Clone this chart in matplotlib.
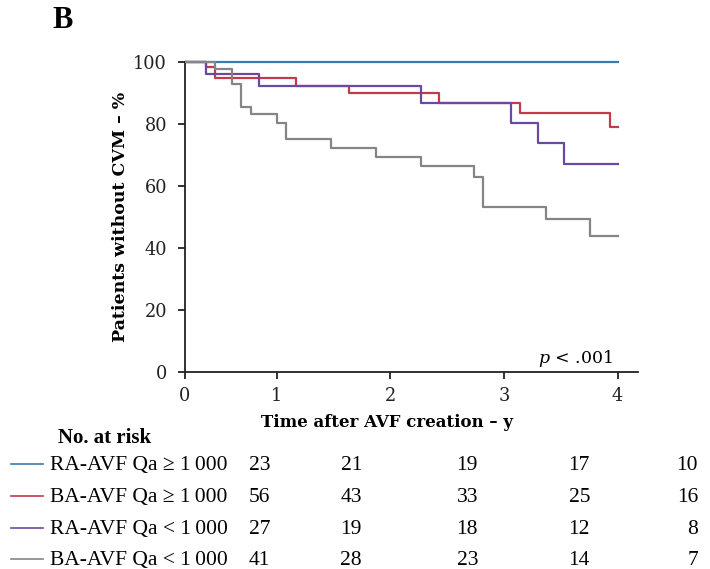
import matplotlib
matplotlib.use("Agg")
import matplotlib.pyplot as plt
from matplotlib.transforms import Bbox, TransformedBbox

plt.rcParams['mathtext.fontset'] = 'dejavuserif'

# Kaplan-Meier estimates (years, % without CVM)
grupos = ['RA-AVF Qa ≥ 1\u2009000', 'BA-AVF Qa ≥ 1\u2009000',
          'RA-AVF Qa < 1\u2009000', 'BA-AVF Qa < 1\u2009000']
cores = ['#3a7cad', '#c23a4c', '#6a4a9e', '#858585']

t_ra_alto = [0.0, 4.0]
s_ra_alto = [100.0, 100.0]

t_ba_alto = [0.0, 0.38, 0.455, 1.17, 1.64, 2.43, 3.14, 3.93, 4.0]
s_ba_alto = [100.0, 98.4, 94.7, 92.4, 90.0, 86.9, 83.4, 79.1, 79.1]

t_ra_baixo = [0.0, 0.38, 0.844, 2.27, 3.06, 3.30, 3.53, 4.0]
s_ra_baixo = [100.0, 96.1, 92.3, 86.9, 80.3, 73.8, 67.1, 67.1]

t_ba_baixo = [0.0, 0.455, 0.61, 0.686, 0.771, 1.005, 1.08, 1.48, 1.876,
              2.27, 2.735, 2.82, 3.37, 3.76, 4.0]
s_ba_baixo = [100.0, 97.6, 92.9, 85.6, 83.2, 80.4, 75.2, 72.2, 69.5,
              66.6, 63.0, 53.1, 49.3, 44.0, 44.0]

curvas = [(t_ra_alto, s_ra_alto), (t_ba_alto, s_ba_alto),
          (t_ra_baixo, s_ra_baixo), (t_ba_baixo, s_ba_baixo)]

# numbers at risk at 0..4 years
em_risco = [[23, 21, 19, 17, 10],
            [56, 43, 33, 25, 16],
            [27, 19, 18, 12, 8],
            [41, 28, 23, 14, 7]]

inicio_eixo = 0.193  # where the plotted axis starts
ticks_x = [inicio_eixo, 1, 2, 3, 4]
rotulos_x = ['0', '1', '2', '3', '4']

fonte_eixo = ['DejaVu Serif']
fonte_tab = ['Liberation Serif', 'DejaVu Serif']

fig = plt.figure(figsize=(7.1, 5.69), dpi=100)
ax = fig.add_axes([185/710, 1 - 372/569, (638 - 185)/710, (372 - 62)/569])

# clip on the left at the axis, but let the 100 % line show whole
recorte = TransformedBbox(Bbox([[inicio_eixo, -5], [4.5, 105]]), ax.transData)
for (t, s), cor in zip(curvas, cores):
    linha, = ax.step(t, s, where='post', color=cor, lw=1.6, zorder=3)
    linha.set_clip_box(recorte)

ax.set_xlim(inicio_eixo, 4.18)
ax.set_ylim(0, 100)
ax.set_xticks(ticks_x)
ax.set_xticklabels(rotulos_x)
ax.set_yticks([0, 20, 40, 60, 80, 100])
for s in ['top', 'right']:
    ax.spines[s].set_visible(False)
for s in ['left', 'bottom']:
    ax.spines[s].set_linewidth(1.3)
    ax.spines[s].set_color('#222222')
ax.tick_params(direction='out', length=5, width=1.3, colors='#222222',
               labelsize=12.8)
ax.tick_params(axis='y', pad=8)
ax.tick_params(axis='x', pad=6)
for lab in ax.get_xticklabels() + ax.get_yticklabels():
    lab.set_family(fonte_eixo)

ax.set_ylabel('Patients without CVM – %', family=fonte_eixo,
              fontweight='bold', fontsize=12.5)
ax.yaxis.set_label_coords(-0.124, 0.5)
ax.set_xlabel('Time after AVF creation – y', family=fonte_eixo,
              fontweight='bold', fontsize=12)
ax.xaxis.set_label_coords((387 - 185)/(638 - 185), -0.136)

ax.text(3.96, 3, r'$p$ < .001', ha='right', va='baseline',
        family=fonte_eixo, fontsize=12.5)

fig.text(52/710, 1 - 20/569, 'B', family=fonte_tab, fontweight='bold',
         fontsize=22, va='center', ha='left')

# risk table under the plot
fig.text(58/710, 1 - 443/569, 'No. at risk', family=fonte_tab,
         fontweight='bold', fontsize=15, va='baseline')
linhas_y = [470, 502, 534, 565]
colunas_x = [270, 362, 478, 590, 698]
for grupo, cor, riscos, yp in zip(grupos, cores, em_risco, linhas_y):
    yb = 1 - yp/569
    yl = 1 - (yp - 6)/569
    fig.add_artist(plt.Line2D([11/710, 43/710], [yl, yl], color=cor, lw=1.2))
    fig.text(50/710, yb, grupo, family=fonte_tab, fontsize=15.5,
             va='baseline')
    for n, xp in zip(riscos, colunas_x):
        fig.text(xp/710, yb, str(n), family=fonte_tab, fontsize=15.5,
                 va='baseline', ha='right')

fig.savefig('out.png', dpi=100)
